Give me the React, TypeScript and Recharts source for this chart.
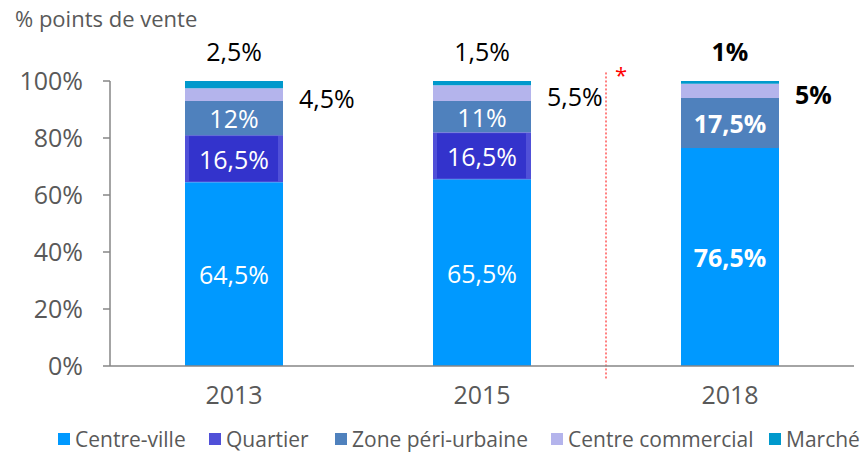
import { BarChart, Bar, XAxis, YAxis, LabelList, ReferenceLine } from 'recharts';

const categories = ['2013', '2015', '2018'];
const centreVille = [64.5, 65.5, 76.5];
const quartier = [16.5, 16.5, 0];
const zonePeri = [12, 11, 17.5];
const centreCommercial = [4.5, 5.5, 5];
const marche = [2.5, 1.5, 1];
const yTicks = [0, 20, 40, 60, 80, 100];

const series = [
  { key: 'centreVille', name: 'Centre-ville', color: '#0099ff' },
  { key: 'quartier', name: 'Quartier', color: '#5050d8' },
  { key: 'zonePeri', name: 'Zone péri-urbaine', color: '#4f81bd' },
  { key: 'centreCommercial', name: 'Centre commercial', color: '#b4b4ec' },
  { key: 'marche', name: 'Marché', color: '#0099cc' },
];
// position des entrées de légende (comme dans l'original)
const legendLeft = [58, 209, 335, 551, 769];

const data = categories.map((year, i) => ({
  year,
  centreVille: centreVille[i],
  quartier: quartier[i],
  zonePeri: zonePeri[i],
  centreCommercial: centreCommercial[i],
  marche: marche[i],
}));

const FONT = "'Open Sans', 'Noto Sans', sans-serif";
const LABEL_SIZE = 25;
const fmt = (v: number) => String(v).replace('.', ',') + '%';

// labels blancs au centre du segment
const insideLabel = (props: any) => {
  const { x, y, width, height, value, index } = props;
  if (!value) return null;
  return (
    <text
      x={x + width / 2}
      y={y + height / 2}
      textAnchor="middle"
      dominantBaseline="central"
      fill="#fff"
      fontSize={LABEL_SIZE}
      fontFamily={FONT}
      fontWeight={index === 2 ? 700 : 400}
    >
      {fmt(value)}
    </text>
  );
};

const rightLabel = (props: any) => {
  const { x, y, width, height, value, index } = props;
  return (
    <text
      x={x + width + 16}
      y={y + height / 2 + 3}
      textAnchor="start"
      dominantBaseline="central"
      fill="#000"
      fontSize={LABEL_SIZE}
      fontFamily={FONT}
      fontWeight={index === 2 ? 700 : 400}
    >
      {fmt(value)}
    </text>
  );
};

const topLabel = (props: any) => {
  const { x, y, width, value, index } = props;
  return (
    <text
      x={x + width / 2}
      y={y - 30}
      textAnchor="middle"
      dominantBaseline="central"
      fill="#000"
      fontSize={LABEL_SIZE}
      fontFamily={FONT}
      fontWeight={index === 2 ? 700 : 400}
    >
      {fmt(value)}
    </text>
  );
};

const quartierShape = (props: any) => {
  const { x, y, width, height } = props;
  if (!height || height <= 0) return <g />;
  return (
    <g>
      <rect x={x} y={y} width={width} height={height} fill="#5050d8" />
      <rect x={x + 4} y={y + 1} width={width - 9} height={height - 2} fill="#3333cc" />
    </g>
  );
};

export default function App() {
  return (
    <div style={{ position: 'absolute', left: 0, top: 0, width: 864, height: 455, overflow: 'hidden', background: '#fff' }}>
      <div style={{ position: 'absolute', left: 15, top: 3, fontFamily: FONT, fontSize: 22, color: '#595959', whiteSpace: 'nowrap' }}>
        % points de vente
      </div>
      <BarChart width={864} height={455} data={data} margin={{ top: 81, right: 10, bottom: 0, left: 0 }}>
        <XAxis
          dataKey="year"
          tickLine={false}
          axisLine={{ stroke: '#868686', strokeWidth: 1.5 }}
          tick={{ fill: '#595959', fontSize: 25, fontFamily: FONT }}
          tickMargin={14}
          height={89}
        />
        <YAxis
          domain={[0, 100]}
          ticks={yTicks}
          tickFormatter={(v) => v + '%'}
          width={110}
          tickSize={7}
          tickMargin={20}
          axisLine={{ stroke: '#868686', strokeWidth: 1.5 }}
          tickLine={{ stroke: '#868686', strokeWidth: 1.5 }}
          tick={{ fill: '#595959', fontSize: 25, fontFamily: FONT }}
        />
        <Bar dataKey="centreVille" stackId="a" fill="#0099ff" barSize={98} isAnimationActive={false}>
          <LabelList dataKey="centreVille" content={insideLabel} />
        </Bar>
        <Bar dataKey="quartier" stackId="a" fill="#5050d8" shape={quartierShape} isAnimationActive={false}>
          <LabelList dataKey="quartier" content={insideLabel} />
        </Bar>
        <Bar dataKey="zonePeri" stackId="a" fill="#4f81bd" isAnimationActive={false}>
          <LabelList dataKey="zonePeri" content={insideLabel} />
        </Bar>
        <Bar dataKey="centreCommercial" stackId="a" fill="#b4b4ec" isAnimationActive={false}>
          <LabelList dataKey="centreCommercial" content={rightLabel} />
        </Bar>
        <Bar dataKey="marche" stackId="a" fill="#0099cc" isAnimationActive={false}>
          <LabelList dataKey="marche" content={topLabel} />
        </Bar>
        <ReferenceLine
          segment={[{ x: '2018', y: 103 }, { x: '2018', y: -5 }]}
          position="start"
          ifOverflow="visible"
          stroke="#ff0000"
          strokeDasharray="2 2"
          strokeWidth={1}
          label={{ value: '*', position: 'insideTopLeft', fill: '#ff0000', fontSize: 22, fontFamily: FONT, dx: 4, dy: -10 }}
        />
      </BarChart>
      {series.map((s, i) => (
        <div
          key={s.key}
          style={{
            position: 'absolute',
            left: legendLeft[i],
            top: 427,
            height: 24,
            display: 'flex',
            alignItems: 'center',
            fontFamily: FONT,
            fontSize: 21,
            lineHeight: '24px',
            color: '#595959',
            whiteSpace: 'nowrap',
          }}
        >
          <span style={{ display: 'inline-block', width: 12, height: 12, background: s.color, marginRight: 5 }} />
          <span>{s.name}</span>
        </div>
      ))}
    </div>
  );
}
